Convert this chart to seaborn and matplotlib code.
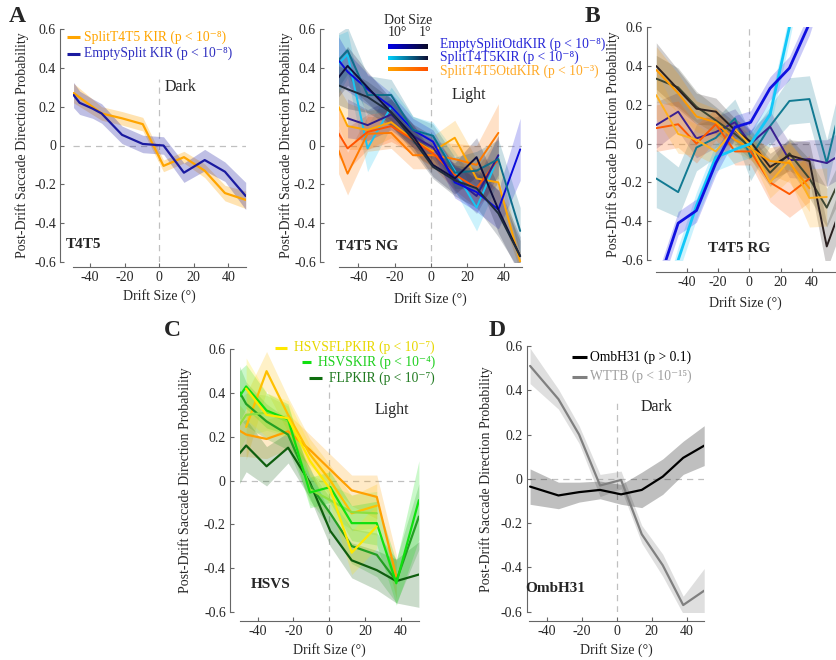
import numpy as np
import pandas as pd
import matplotlib
matplotlib.use("Agg")
import matplotlib.pyplot as plt
from matplotlib.lines import Line2D
from matplotlib.colors import LinearSegmentedColormap
import seaborn as sns

sns.set_theme(style="white")
plt.rcParams["font.family"] = ["Liberation Serif", "DejaVu Serif"]
plt.rcParams["axes.unicode_minus"] = False

# ---------------- data ----------------
Y_TICKS = [-0.6, -0.4, -0.2, 0, 0.2, 0.4, 0.6]
Y_TICK_LABELS = ["-0.6", "-0.4", "-0.2", "0", "0.2", "0.4", "0.6"]
X_TICKS = [-40, -20, 0, 20, 40]
X_TICK_LABELS = ["-40", "-20", "0", "20", "40"]

# Panel A (T4T5, dark)
A_SPLIT_X = [-49.5, -33.3, -21.5, -9.5, 2.5, 14.3, 26.3, 38, 50]
A_SPLIT_Y = [0.27, 0.165, 0.14, 0.11, -0.105, -0.06, -0.13, -0.245, -0.28]
A_SPLIT_E = [0.05, 0.035, 0.035, 0.035, 0.03, 0.03, 0.035, 0.04, 0.045]
A_EMPTY_X = [-49.5, -46, -38.5, -33.3, -21.5, -9.5, 2.5, 14.3, 26.3, 38, 50]
A_EMPTY_Y = [0.26, 0.22, 0.19, 0.165, 0.055, 0.008, 0.0, -0.14, -0.075, -0.135, -0.26]
A_EMPTY_E = [0.065, 0.06, 0.05, 0.05, 0.045, 0.045, 0.045, 0.05, 0.055, 0.05, 0.07]

# Panel A2 (T4T5 NG, light)
NG_X = [-51, -46, -35, -22, -10, 1, 13, 25, 37, 49]
NG_E10_Y = [0.44, 0.38, 0.29, 0.20, 0.08, 0.02, -0.19, -0.24, -0.33, -0.02]
NG_E5_Y = [0.14, 0.105, 0.16, 0.05, -0.01, -0.17, -0.26, -0.05]
NG_E1_Y = [0.35, 0.41, 0.30, 0.17, 0.05, -0.10, -0.17, -0.06, -0.33, -0.57]
NG_S10_Y = [0.42, 0.47, -0.015, 0.20, 0.08, 0.05, -0.13, -0.32, -0.06]
NG_S5_Y = [0.44, 0.49, 0.26, 0.26, 0.08, 0.05, -0.14, -0.13, -0.07, -0.44]
NG_S1_Y = [0.31, 0.29, 0.25, 0.17, 0.03, -0.11, -0.18, -0.22, -0.35, -0.57]
NG_O10_Y = [0.20, 0.10, 0.08, 0.12, 0.03, -0.03, 0.04, -0.17, -0.19, -0.60]
NG_O5_Y = [-0.025, -0.145, 0.06, 0.065, -0.05, -0.05, -0.07, -0.10, 0.065]
NG_O1_Y = [0.063, -0.015, 0.07, 0.10, 0.03, -0.04, -0.15, -0.22, -0.07]
NG_E10_E = [0.12, 0.1, 0.08, 0.07, 0.06, 0.06, 0.08, 0.1, 0.1, 0.16]
NG_E5_E = [0.1, 0.08, 0.08, 0.06, 0.06, 0.07, 0.09, 0.1]
NG_E1_E = [0.1, 0.1, 0.08, 0.07, 0.06, 0.06, 0.08, 0.1, 0.12, 0.1]
NG_S10_E = [0.15, 0.12, 0.12, 0.1, 0.07, 0.07, 0.1, 0.12, 0.12]
NG_S5_E = [0.14, 0.12, 0.1, 0.08, 0.07, 0.06, 0.08, 0.1, 0.1, 0.12]
NG_S1_E = [0.1, 0.1, 0.08, 0.07, 0.06, 0.06, 0.08, 0.1, 0.12, 0.08]
NG_O10_E = [0.1, 0.12, 0.1, 0.08, 0.08, 0.08, 0.09, 0.1, 0.12, 0.05]
NG_O5_E = [0.12, 0.11, 0.09, 0.08, 0.07, 0.07, 0.08, 0.1, 0.15]
NG_O1_E = [0.12, 0.11, 0.09, 0.08, 0.07, 0.07, 0.08, 0.1, 0.12]

# Panel B (T4T5 RG)
RG_X = [-59.5, -45.5, -33.8, -21.4, -9.2, 0.9, 13.3, 25.7, 38.5, 49.6, 60]
RG_E10_Y = [-0.75, -0.41, -0.345, -0.10, 0.085, 0.11, 0.285, 0.39, 0.62, 0.9, 1.1]
RG_S10_Y = [-1.0, -0.6, -0.32, -0.07, -0.03, 0.0, 0.15, 0.6, 1.1, 1.4, 1.6]
RG_S5_Y = [-0.18, -0.25, -0.02, 0.03, 0.13, -0.07, 0.09, 0.22, 0.23, -0.10, 0.25]
RG_E1_Y = [0.40, 0.28, 0.18, 0.165, 0.07, 0.01, -0.12, -0.06, -0.09, -0.53, -0.30]
RG_S1_Y = [0.335, 0.29, 0.19, 0.12, 0.05, -0.02, -0.15, -0.05, -0.18, -0.33, -0.15]
RG_E5_Y = [0.096, 0.165, 0.027, 0.06, 0.11, 0.0, 0.088, -0.085, -0.08, -0.10, -0.05]
RG_O10_Y = [0.38, 0.26, 0.14, 0.11, 0.02, -0.025, -0.09, -0.10, -0.23]
RG_O5_Y = [0.25, 0.05, 0.02, -0.04, 0.075, -0.01, -0.20, -0.085, -0.28, -0.275]
RG_O1_Y = [0.08, 0.10, 0.0, 0.10, -0.04, -0.04, -0.20, -0.26, -0.18]
RG_E10_E = [0.06] * 11
RG_S10_E = [0.07] * 11
RG_S5_E = [0.15, 0.13, 0.12, 0.1, 0.1, 0.12, 0.1, 0.12, 0.12, 0.12, 0.12]
RG_E1_E = [0.12, 0.1, 0.08, 0.07, 0.06, 0.06, 0.07, 0.08, 0.1, 0.12, 0.12]
RG_S1_E = [0.12, 0.1, 0.08, 0.07, 0.06, 0.06, 0.07, 0.08, 0.1, 0.1, 0.1]
RG_E5_E = [0.12, 0.1, 0.1, 0.08, 0.07, 0.07, 0.08, 0.09, 0.1, 0.12, 0.12]
RG_O10_E = [0.12, 0.1, 0.08, 0.07, 0.06, 0.06, 0.07, 0.1, 0.12]
RG_O5_E = [0.12, 0.1, 0.08, 0.07, 0.06, 0.06, 0.08, 0.1, 0.15, 0.15]
RG_O1_E = [0.12, 0.12, 0.1, 0.08, 0.07, 0.07, 0.1, 0.12, 0.12]

# Panel C (HSVS, light)
C_X = [-50.5, -46.4, -35, -23, -10.8, 0.5, 12.5, 26.5, 37.4, 50]
C_HF10_Y = [0.42, 0.30, 0.285, 0.09, -0.04, -0.33, -0.21]
C_HF5_Y = [0.245, 0.50, 0.30, 0.12, 0.0, -0.15, -0.115]
C_HF1_Y = [0.23, 0.21, 0.19, 0.225, 0.14, 0.05, -0.045, -0.075, -0.44]
C_HS10_Y = [0.38, 0.43, 0.32, 0.28, -0.055, -0.03, -0.195, -0.195, -0.47, -0.09]
C_HS5_Y = [0.25, 0.30, 0.31, 0.27, -0.04, -0.09, -0.145, -0.15]
C_FL10_Y = [0.41, 0.35, 0.27, 0.21, -0.02, -0.15, -0.30, -0.34, -0.46, -0.165]
C_FL1_Y = [0.12, 0.16, 0.065, 0.15, -0.01, -0.23, -0.365, -0.41, -0.46, -0.43]
C_HF10_E = [0.14, 0.1, 0.08, 0.07, 0.07, 0.1, 0.1]
C_HF5_E = [0.15, 0.09, 0.08, 0.07, 0.07, 0.08, 0.1]
C_HF1_E = [0.12, 0.1, 0.09, 0.08, 0.07, 0.07, 0.07, 0.1, 0.1]
C_HS10_E = [0.12, 0.1, 0.08, 0.07, 0.07, 0.07, 0.08, 0.1, 0.1, 0.18]
C_HS5_E = [0.12, 0.1, 0.08, 0.07, 0.07, 0.07, 0.08, 0.1]
C_FL10_E = [0.12, 0.1, 0.08, 0.07, 0.07, 0.07, 0.08, 0.1, 0.1, 0.15]
C_FL1_E = [0.14, 0.12, 0.09, 0.07, 0.07, 0.07, 0.08, 0.09, 0.1, 0.15]

# Panel D (OmbH31, dark)
D_X = [-49.5, -33.3, -21.5, -9.5, 2.5, 14.3, 26.3, 38, 50]
D_OMB_Y = [-0.035, -0.075, -0.06, -0.05, -0.07, -0.05, 0.01, 0.095, 0.15]
D_OMB_E = [0.08, 0.06, 0.045, 0.04, 0.045, 0.08, 0.08, 0.075, 0.09]
D_WTTB_Y = [0.51, 0.36, 0.2, -0.03, -0.005, -0.25, -0.39, -0.57, -0.505]
D_WTTB_E = [0.08, 0.045, 0.04, 0.05, 0.04, 0.04, 0.05, 0.04, 0.1]

# ---------------- figure ----------------
W, H = 836, 660
fig = plt.figure(figsize=(W / 100, H / 100), dpi=100)


def rect(l, r, t, b):
    return [l / W, 1 - b / H, (r - l) / W, (b - t) / H]


def fx(x):
    return x / W


def fy(y):
    return 1 - y / H


def draw_series(ax, x, y, e, color, lw=1.4, alpha=0.25):
    x = np.asarray(x, float)
    y = np.asarray(y, float)
    e = np.asarray(e, float)
    ax.fill_between(x, y - e, y + e, color=color, alpha=alpha, lw=0, zorder=1)
    df = pd.DataFrame({"drift": x, "prob": y})
    sns.lineplot(data=df, x="drift", y="prob", color=color, lw=lw, ax=ax,
                 estimator=None, sort=False, zorder=3)


def style(ax, xlim, left_off, bottom_off, vtop, ylab_x, xlab_y):
    ax.set_xlim(*xlim)
    ax.set_ylim(-0.6, 0.6)
    for s in ["top", "right"]:
        ax.spines[s].set_visible(False)
    for s in ["left", "bottom"]:
        ax.spines[s].set_color("#666666")
        ax.spines[s].set_linewidth(0.8)
    ax.spines["left"].set_position(("outward", left_off))
    ax.spines["bottom"].set_position(("outward", bottom_off))
    ax.set_yticks(Y_TICKS, Y_TICK_LABELS)
    ax.set_xticks(X_TICKS, X_TICK_LABELS)
    ax.tick_params(direction="in", length=3, width=0.8, color="#666666",
                   labelsize=10, pad=3, left=True, bottom=True)
    ax.set_facecolor("none")
    ax.axhline(0, color="#c0c0c0", ls=(0, (5, 4)), lw=0.9, zorder=0)
    ax.plot([0, 0], [-0.6, vtop], color="#c0c0c0", ls=(0, (5, 4)), lw=0.9, zorder=0)
    ax.set_ylabel("Post-Drift Saccade Direction Probability", fontsize=10)
    ax.set_xlabel("Drift Size (°)", fontsize=10)
    ax.yaxis.set_label_coords(ylab_x, 0.5)
    ax.xaxis.set_label_coords(0.5, xlab_y)
    ax.grid(False)


# Panel A
axA = fig.add_axes(rect(72.7, 245.7, 29, 262))
draw_series(axA, A_SPLIT_X, A_SPLIT_Y, A_SPLIT_E, "#FFA500", lw=1.6, alpha=0.3)
draw_series(axA, A_EMPTY_X, A_EMPTY_Y, A_EMPTY_E, "#1A1AA0", lw=1.6, alpha=0.28)
style(axA, (-50, 50), 9, 3.6, 0.34, -0.255, -0.115)

# Panel A2 (NG)
axN = fig.add_axes(rect(339.4, 522, 29, 262))
ng = [
    (NG_X, NG_S10_Y, NG_S10_E, "#18C4F2"),
    (NG_X, NG_O10_Y, NG_O10_E, "#FFA500"),
    (NG_X, NG_O5_Y, NG_O5_E, "#FF7A00"),
    (NG_X, NG_O1_Y, NG_O1_E, "#FF5400"),
    (NG_X[1:9], NG_E5_Y, NG_E5_E, "#2E1E8E"),
    (NG_X, NG_E10_Y, NG_E10_E, "#0A0ADC"),
    (NG_X, NG_S5_Y, NG_S5_E, "#0E6E8A"),
    (NG_X, NG_E1_Y, NG_E1_E, "#10103E"),
    (NG_X, NG_S1_Y, NG_S1_E, "#1E2C3C"),
]
for x, y, e, c in ng:
    n = min(len(y), len(x))
    draw_series(axN, x[:n], y, e[:n], c, lw=1.4, alpha=0.22)
style(axN, (-50.5, 50), 14, 3.6, 0.35, -0.255, -0.128)

# Panel B (RG)
axB = fig.add_axes(rect(656.3, 835.2, 27.3, 260))
rg = [
    (RG_X, RG_S5_Y, RG_S5_E, "#127A92"),
    (RG_X, RG_E5_Y, RG_E5_E, "#3A2090"),
    (RG_X, RG_S1_Y, RG_S1_E, "#3C4632"),
    (RG_X, RG_E1_Y, RG_E1_E, "#2A2020"),
    (RG_X, RG_O1_Y, RG_O1_E, "#FF5A00"),
    (RG_X, RG_O5_Y, RG_O5_E, "#FFB020"),
    (RG_X, RG_O10_Y, RG_O10_E, "#FF9A00"),
    (RG_X, RG_S10_Y, RG_S10_E, "#12C8F8"),
    (RG_X, RG_E10_Y, RG_E10_E, "#1010E0"),
]
for x, y, e, c in rg:
    n = len(y)
    lw = 2.0 if c in ("#1010E0", "#12C8F8") else 1.4
    draw_series(axB, x[:n], y, e[:n], c, lw=lw, alpha=0.22)
style(axB, (-59.5, 55), 6.7, 8.4, 0.6, -0.205, -0.155)

# Panel C (HSVS)
axC = fig.add_axes(rect(239.7, 418.9, 349.3, 611.7))
cs = [
    (C_X[:9], C_HF1_Y, C_HF1_E, "#FFA000"),
    (C_X[1:8], C_HF5_Y, C_HF5_E, "#FFC000"),
    (C_X[:10], C_FL1_Y, C_FL1_E, "#0E5E0E"),
    (C_X[:10], C_FL10_Y, C_FL10_E, "#22A022"),
    (C_X[:8], C_HS5_Y, C_HS5_E, "#8CE040"),
    (C_X[:10], C_HS10_Y, C_HS10_E, "#10E010"),
    (C_X[1:8], C_HF10_Y, C_HF10_E, "#FFE800"),
]
for x, y, e, c in cs:
    draw_series(axC, x, y, e, c, lw=1.6, alpha=0.22)
style(axC, (-50, 50), 7, 6.5, 0.44, -0.265, -0.118)

# Panel D (OmbH31)
axD = fig.add_axes(rect(529.2, 704.2, 346, 611.7))
draw_series(axD, D_X, D_WTTB_Y, D_WTTB_E, "#808080", lw=1.6, alpha=0.25)
draw_series(axD, D_X, D_OMB_Y, D_OMB_E, "#000000", lw=1.6, alpha=0.25)
style(axD, (-50, 50), 1.8, 6.5, 0.36, -0.205, -0.118)

# ---------------- texts ----------------
for lbl, x, y in [("A", 17, 17), ("B", 592, 16), ("C", 172, 330), ("D", 497, 330)]:
    fig.text(fx(x), fy(y), lbl, fontsize=17, fontweight="bold", ha="center", va="center")

for t, x, y in [("Dark", 181, 87), ("Light", 469, 95), ("Light", 392, 410), ("Dark", 657, 407)]:
    fig.text(fx(x), fy(y), t, fontsize=11.5, ha="center", va="center")

for t, x, y in [("T4T5", 84, 245), ("T4T5 NG", 367, 246), ("T4T5 RG", 739, 249),
                ("HSVS", 271, 585), ("OmbH31", 555, 589)]:
    fig.text(fx(x), fy(y), t, fontsize=11, fontweight="bold", ha="center", va="center")


def leg_line(x0, x1, y, color, lw=2.2):
    fig.add_artist(Line2D([fx(x0), fx(x1)], [fy(y), fy(y)], transform=fig.transFigure,
                          color=color, lw=lw, solid_capstyle="butt"))


# legend A
leg_line(66.7, 80, 37, "#FFA500")
fig.text(fx(83.5), fy(37), "SplitT4T5 KIR (p < 10⁻⁸)", color="#FFA500", fontsize=9.8, va="center")
leg_line(66.7, 80, 53.5, "#1A1AA0")
fig.text(fx(83.5), fy(53.5), "EmptySplit KIR (p < 10⁻⁸)", color="#3030C0", fontsize=9.8, va="center")

# legend A2 (dot size gradients)
fig.text(fx(408), fy(20), "Dot Size", fontsize=10, ha="center", va="center")
fig.text(fx(397), fy(33), "10°", fontsize=10, ha="center", va="center")
fig.text(fx(425), fy(33), "1°", fontsize=10, ha="center", va="center")
grad = np.linspace(0, 1, 128).reshape(1, -1)
for (c0, c1), yb, yt, label, tc in [
    (("#0000EB", "#0A0A28"), 46.5, 44, "EmptySplitOtdKIR (p < 10⁻⁸)", "#2828D8"),
    (("#00D2FF", "#0F0F32"), 58, 57.5, "SplitT4T5KIR (p < 10⁻⁸)", "#2828D8"),
    (("#FFA500", "#FF5000"), 69, 71, "SplitT4T5OtdKIR (p < 10⁻³)", "#FFAA28"),
]:
    cax = fig.add_axes(rect(388.3, 428.3, yb - 2.3, yb + 2.3))
    cax.imshow(grad, aspect="auto", cmap=LinearSegmentedColormap.from_list("g", [c0, c1]))
    cax.set_axis_off()
    fig.text(fx(440), fy(yt), label, color=tc, fontsize=9.8, va="center")

# legend C (right aligned text, handle placed just left of each text)
fig.canvas.draw()
renderer = fig.canvas.get_renderer()
for y, c, hl, label, tc in [
    (347.5, "#FFE800", 12, "HSVSFLPKIR (p < 10⁻⁷)", "#E8D800"),
    (362.5, "#10E010", 9, "HSVSKIR (p < 10⁻⁴)", "#20D020"),
    (378, "#0E6E0E", 13, "FLPKIR (p < 10⁻⁷)", "#207A20"),
]:
    t = fig.text(fx(435), fy(y), label, color=tc, fontsize=9.8, va="center", ha="right")
    bb = t.get_window_extent(renderer)
    left_px = bb.x0
    leg_line(left_px - 7 - hl, left_px - 7, y, c)

# legend D
leg_line(571.7, 586.7, 357, "#000000")
fig.text(fx(590), fy(357), "OmbH31 (p > 0.1)", color="#000000", fontsize=9.8, va="center")
leg_line(571.7, 586.7, 376.5, "#808080")
fig.text(fx(590), fy(376.5), "WTTB (p < 10⁻¹⁵)", color="#A0A0A0", fontsize=9.8, va="center")

fig.savefig("out.png", dpi=100)
